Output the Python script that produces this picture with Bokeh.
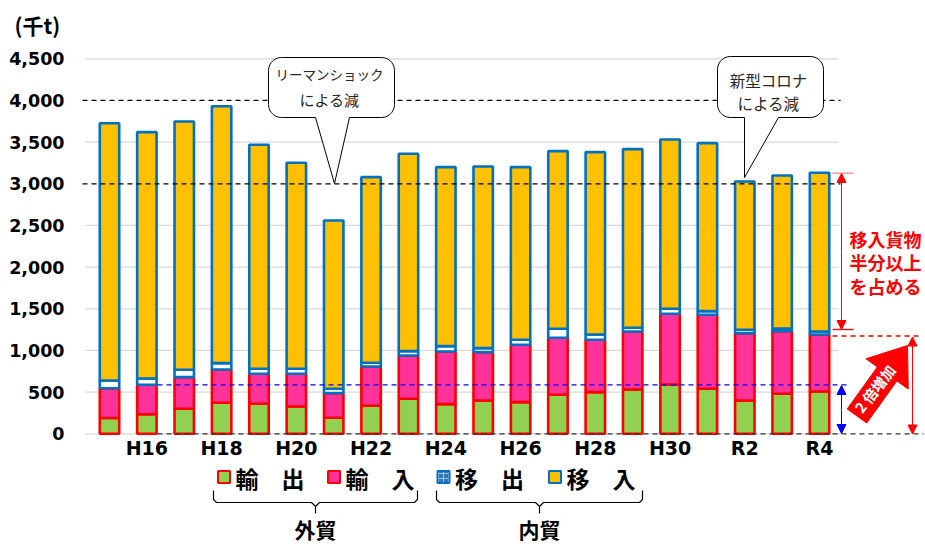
import numpy as np
from bokeh.plotting import figure
from bokeh.models import Range1d, Arrow, NormalHead, ColumnDataSource
from bokeh.core.properties import value
from bokeh.embed import file_html
from bokeh.resources import INLINE

# ---------------- data (千t) ----------------
years = ["H15", "H16", "H17", "H18", "H19", "H20", "H21", "H22", "H23", "H24",
         "H25", "H26", "H27", "H28", "H29", "H30", "R1", "R2", "R3", "R4"]
year_labels = ["", "H16", "", "H18", "", "H20", "", "H22", "", "H24",
               "", "H26", "", "H28", "", "H30", "", "R2", "", "R4"]
export_ = [190, 235, 300, 372, 360, 328, 192, 336, 420, 356,
           400, 380, 468, 500, 532, 592, 540, 400, 480, 508]       # 輸出
import_ = [357, 353, 380, 400, 360, 392, 296, 472, 520, 632,
           580, 688, 684, 628, 696, 848, 888, 808, 752, 684]       # 輸入
ship_out = [93, 76, 88, 76, 60, 60, 52, 44, 52, 64,
            48, 60, 108, 64, 44, 60, 44, 40, 32, 36]              # 移出
ship_in = [3087, 2956, 2980, 3083, 2688, 2472, 2020, 2228, 2368, 2148,
           2180, 2072, 2132, 2188, 2144, 2032, 2016, 1780, 1836, 1904]  # 移入
series_names = ["輸　出", "輸　入", "移　出", "移　入"]
y_ticks = [0, 500, 1000, 1500, 2000, 2500, 3000, 3500, 4000, 4500]
y_tick_labels = ["0", "500", "1,000", "1,500", "2,000", "2,500", "3,000", "3,500", "4,000", "4,500"]
callout1 = ["リーマンショック", "による減"]
callout2 = ["新型コロナ", "による減"]
note_lines = ["移入貨物", "半分以上", "を占める"]
arrow_text = "2 倍増加"
unit_label = "(千t)"
group_labels = ["外貿", "内貿"]

# ---------------- layout helpers (pixel -> data) ----------------
W, H = 925, 544
X0, DX = 109.0, 37.37      # first bar centre px, bar pitch px
Y0, K = 433.3, 12.0        # zero line px, units per px


def dx(px):
    return (px - X0) / DX


def dy(py):
    return (Y0 - py) * K


GREEN, PINK, ORANGE = "#92D050", "#FF3399", "#FFC000"
RED, BLUE = "#FF0000", "#0070C0"
JP = value("Noto Sans CJK JP")
LAT = value("DejaVu Sans")

p = figure(width=W, height=H, x_range=Range1d(dx(0), dx(W)), y_range=Range1d(dy(H), dy(0)),
           output_backend="svg", toolbar_location=None, x_axis_type=None, y_axis_type=None,
           min_border=0, outline_line_color=None, background_fill_color="white")
p.grid.visible = False

# gridlines
grid_vals = [v for v in y_ticks if v not in (0, 3000, 4000)]
p.segment(x0=[dx(85)] * len(grid_vals), y0=grid_vals, x1=[dx(838)] * len(grid_vals), y1=grid_vals,
          line_color="#D9D9D9", line_width=1.2)
p.segment(x0=[dx(85)], y0=[0], x1=[dx(840)], y1=[0], line_color="#D9D9D9", line_width=1.2)

# stacked bars
src = ColumnDataSource(dict(x=list(range(len(years))), exp=export_, imp=import_,
                            so=ship_out, si=ship_in))
p.vbar_stack(["exp", "imp", "so", "si"], x="x", width=0.52, source=src,
             fill_color=[GREEN, PINK, "white", ORANGE],
             line_color=[RED, RED, BLUE, BLUE], line_width=2.6)

# dashed reference lines
for v in (3000, 4000):
    p.segment(x0=[dx(82)], y0=[v], x1=[dx(840)], y1=[v], line_color="black",
              line_width=1.3, line_dash="5 4")
p.segment(x0=[dx(157)], y0=[0], x1=[dx(923)], y1=[0], line_color="#333333",
          line_width=1.3, line_dash="5 4")
p.segment(x0=[dx(157)], y0=[dy(384.3)], x1=[dx(850)], y1=[dy(384.3)], line_color="#0000FF",
          line_width=1.3, line_dash="5 4")
p.segment(x0=[dx(832)], y0=[dy(335.5)], x1=[dx(922)], y1=[dy(335.5)], line_color=RED,
          line_width=1.3, line_dash="5 4")
p.segment(x0=[dx(832), dx(832)], y0=[dy(172.7), dy(329)], x1=[dx(853), dx(853)],
          y1=[dy(172.7), dy(329)], line_color=["#FF7C80", RED], line_width=1.3)

# double arrows
def dbl_arrow(x_px, y_top, y_bot, color):
    for ys, ye in ((y_top, y_bot), (y_bot, y_top)):
        p.add_layout(Arrow(end=NormalHead(size=9, fill_color=color, line_color=color),
                           x_start=dx(x_px), y_start=dy((ys + ye) / 2), x_end=dx(x_px), y_end=dy(ye),
                           line_color=color, line_width=1))

dbl_arrow(841, 173, 329, RED)
dbl_arrow(841, 385, 433, "#0000FF")
dbl_arrow(912, 336.5, 433.5, RED)

# y tick labels
p.text(x=[dx(64)] * len(y_ticks), y=y_ticks, text=y_tick_labels, text_font=LAT,
       text_font_style="bold", text_font_size="17.5px", text_align="right",
       text_baseline="middle", text_color="black")
# x tick labels
p.text(x=list(range(len(years))), y=[dy(447.5)] * len(years), text=year_labels, text_font=LAT,
       text_font_style="bold", text_font_size="19px", text_align="center",
       text_baseline="middle", text_color="black")
# unit label
p.text(x=[dx(14)], y=[dy(24)], text=[unit_label], text_font=JP, text_font_style="bold",
       text_font_size="21px", text_align="left", text_baseline="middle", text_color="black")


# callouts
def callout(x0, x1, y0, y1, r, bl, br, tip):
    pts = []
    def arc(cx, cy, a0, a1):
        for t in np.linspace(np.radians(a0), np.radians(a1), 8):
            pts.append((cx + r * np.cos(t), cy + r * np.sin(t)))
    arc(x1 - r, y0 + r, -90, 0)
    arc(x1 - r, y1 - r, 0, 90)
    pts += [br, tip, bl]
    arc(x0 + r, y1 - r, 90, 180)
    arc(x0 + r, y0 + r, 180, 270)
    xs = [dx(a) for a, b in pts]
    ys = [dy(b) for a, b in pts]
    p.patch(xs, ys, fill_color="white", line_color="black", line_width=1)

callout(268, 394, 57, 117, 13, (315, 117), (349, 117), (334, 183))
callout(717, 823, 56, 117, 13, (744, 117), (778, 117), (744, 177))
p.text(x=[dx(329)], y=[dy(73)], text=[callout1[0]], text_font=JP, text_font_size="13.5px",
       text_align="center", text_baseline="middle", text_color="#262626")
p.text(x=[dx(329)], y=[dy(99)], text=[callout1[1]], text_font=JP, text_font_size="15px",
       text_align="center", text_baseline="middle", text_color="#262626")
p.text(x=[dx(768)] * 2, y=[dy(79), dy(102)], text=callout2, text_font=JP, text_font_size="15.5px",
       text_align="center", text_baseline="middle", text_color="#262626")

# red note
p.text(x=[dx(885)] * 3, y=[dy(238), dy(261.5), dy(285)], text=note_lines, text_font=JP,
       text_font_style="bold", text_font_size="18px", text_align="center",
       text_baseline="middle", text_color=RED)

# big block arrow
T = np.array([856.5, 415.5])
tip = np.array([907.0, 345.0])
u = (tip - T) / np.linalg.norm(tip - T)
n = np.array([-u[1], u[0]])
Hb = tip - 35 * u
poly = [T - 12 * n, Hb - 12 * n, Hb - 26 * n, tip, Hb + 26 * n, Hb + 12 * n, T + 12 * n]
p.patch([dx(q[0]) for q in poly], [dy(q[1]) for q in poly], fill_color=RED, line_color=RED)
p.text(x=[dx(874)], y=[dy(388)], text=[arrow_text], text_font=JP, text_font_style="bold",
       text_font_size="14.5px", text_align="center", text_baseline="middle",
       text_color="white", angle=np.radians(52))

# legend
leg_x = [223.5, 333.5, 443, 554.5]
leg_fill = [GREEN, PINK, "#2E75B6", ORANGE]
leg_line = [RED, RED, BLUE, BLUE]
p.rect(x=[dx(v) for v in leg_x], y=[dy(476.5)] * 4, width=12, height=12, width_units="screen",
       height_units="screen", fill_color=leg_fill, line_color=leg_line, line_width=2)
p.rect(x=[dx(leg_x[2])], y=[dy(476.5)], width=10, height=10, width_units="screen",
       height_units="screen", fill_color="#2E75B6", line_color=None,
       hatch_pattern="+", hatch_color="#9DC3E6", hatch_scale=5, hatch_weight=1)
p.text(x=[dx(v + 11.5) for v in leg_x], y=[dy(477)] * 4, text=series_names, text_font=JP,
       text_font_style="bold", text_font_size="23px", text_align="left",
       text_baseline="middle", text_color="black")

# braces
def brace(xl, xr, xm):
    left = [(xl, 490), (xl, 499), (xl + 3, 502), (xm - 4, 502), (xm, 506), (xm, 513)]
    right = [(xr, 490), (xr, 499), (xr - 3, 502), (xm + 4, 502), (xm, 506)]
    p.multi_line([[dx(a) for a, b in left], [dx(a) for a, b in right]],
                 [[dy(b) for a, b in left], [dy(b) for a, b in right]],
                 line_color="black", line_width=1.2)

brace(213, 417, 315)
brace(436, 642, 539)
p.text(x=[dx(315), dx(539)], y=[dy(528)] * 2, text=group_labels, text_font=JP,
       text_font_style="bold", text_font_size="21px", text_align="center",
       text_baseline="middle", text_color="black")

open("out.html", "w").write(file_html(p, INLINE))
